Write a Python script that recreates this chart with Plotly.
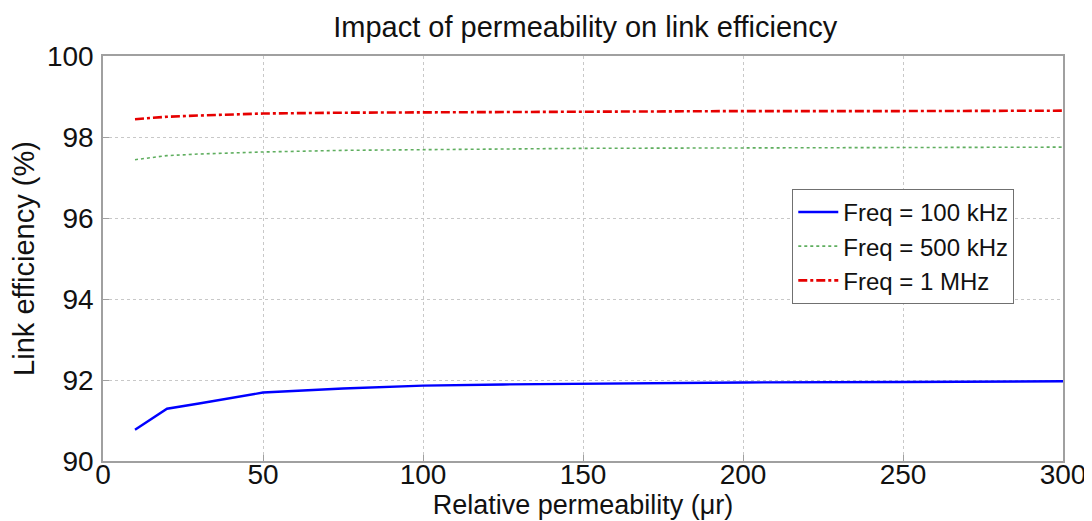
import plotly.graph_objects as go

mu_r = [10, 20, 30, 40, 50, 75, 100, 125, 150, 200, 250, 300]
eff_100k = [90.77, 91.29, 91.42, 91.56, 91.69, 91.79, 91.86, 91.89, 91.91, 91.94, 91.95, 91.97]
eff_500k = [97.44, 97.54, 97.58, 97.61, 97.63, 97.67, 97.69, 97.71, 97.72, 97.73, 97.74, 97.75]
eff_1M = [98.44, 98.50, 98.53, 98.56, 98.58, 98.60, 98.61, 98.62, 98.63, 98.64, 98.64, 98.65]

names = ["Freq = 100 kHz", "Freq = 500 kHz", "Freq = 1 MHz"]
colors = ["#0000ff", "#5fae5f", "#e60000"]
dashes = ["solid", "dot", "dashdot"]
widths = [2.4, 1.6, 2.6]

fig = go.Figure()
for y, n, c, d, w in zip([eff_100k, eff_500k, eff_1M], names, colors, dashes, widths):
    fig.add_trace(go.Scatter(x=mu_r, y=y, mode="lines", name=n,
                             line=dict(color=c, dash=d, width=w)))

font = "Liberation Sans, Arial, sans-serif"
axis_common = dict(
    showgrid=True, gridcolor="#c8c8c8", griddash="dot", gridwidth=1,
    showline=True, linecolor="#a0a0a0", linewidth=1.5, mirror=True,
    ticks="inside", ticklen=6, tickcolor="#a0a0a0",
    tickfont=dict(family=font, size=28, color="#111"),
    zeroline=False, automargin=False,
)

fig.update_layout(
    width=1084, height=513,
    paper_bgcolor="white", plot_bgcolor="white",
    margin=dict(l=95, r=29, t=48, b=59.5),
    title=dict(text="Impact of permeability on link efficiency", x=0.5325, xanchor="center",
               y=0.963, yanchor="middle", font=dict(family=font, size=29, color="#111")),
    xaxis=dict(range=[0, 300], tickvals=[0, 50, 100, 150, 200, 250, 300],
               ticklabelstandoff=-12,
               title=dict(text="Relative permeability (μr)", standoff=0,
                          font=dict(family=font, size=27, color="#111")),
               **axis_common),
    yaxis=dict(range=[90, 100], tickvals=[90, 92, 94, 96, 98, 100],
               ticklabelstandoff=2,
               title=dict(text="Link efficiency (%)", standoff=6,
                          font=dict(family=font, size=29, color="#111")),
               **axis_common),
    legend=dict(x=0.718, y=0.672, xanchor="left", yanchor="top",
                bgcolor="white", bordercolor="#707070", borderwidth=1,
                font=dict(family=font, size=24, color="#111"),
                tracegroupgap=0, itemwidth=40),
    showlegend=True,
)

fig.write_html("out.html")
